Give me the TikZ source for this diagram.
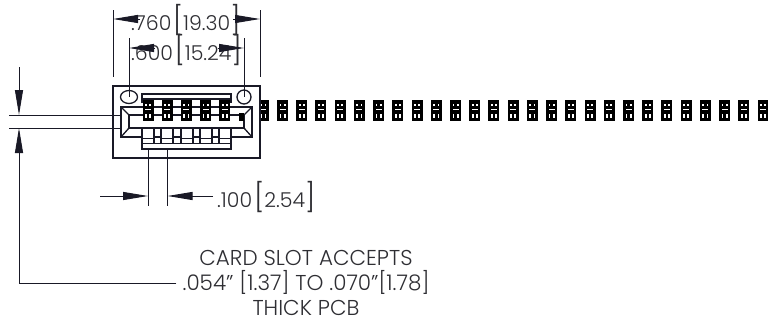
\documentclass[tikz,border=0pt]{standalone}
\usepackage{xcolor}
\usepackage{fontspec}
\setmainfont{Poppins Light}
\usepackage{tikz}
\usetikzlibrary{arrows.meta, positioning}
\definecolor{inkline}{rgb}{0.10,0.10,0.15}
\definecolor{inktext}{rgb}{0.18,0.18,0.20}
\newcommand{\brk}[1]{{\fontsize{28}{28}\selectfont[}#1{\fontsize{28}{28}\selectfont]}}

\begin{document}
\begin{tikzpicture}[x=1pt, y=-1pt,
    part/.style={draw=inkline, line width=1.3pt},
    dimline/.style={draw=inkline, line width=1pt},
    dimarrow/.style={draw=inkline, line width=1pt, -{Triangle[length=25pt,width=8pt]}},
    dimtext/.style={font=\fontsize{20.5}{20.5}\selectfont, text=inktext, inner sep=0pt},
    notetext/.style={font=\fontsize{21.5}{25}\selectfont, text=inktext, align=center, inner ysep=1pt, inner xsep=6pt},
    chippart/.pic={
        \fill[black] (-5.5,-10.5) rectangle (5.5,10.5);
        \fill[white] (-3,-7) rectangle (-1.2,-5);
        \fill[white] (1.2,-7) rectangle (3,-5);
        \fill[white] (-3,-1.2) rectangle (3,-0.2);
        \fill[white] (-3,3.5) rectangle (-1.2,7);
        \fill[white] (1.2,3.5) rectangle (3,7);
    }
]
\useasboundingbox (0,0) rectangle (768,322);

% pins running off to the right
\foreach \k in {6,...,32} {
    \pic at ({148+19.22*\k},110.5) {chippart};
}

% housing
\draw[part, fill=white] (113,86) rectangle (260,158);
\draw[part] (129,97) ellipse (8.5 and 6.5);
\draw[part] (244,97) circle (7);
\draw[part] (142,103) -- (142,94) -- (231,94) -- (231,103);
\draw[part] (142,99) -- (231,99);
\draw[part] (121,107) rectangle (252,137);
\draw[part] (129,115) rectangle (244,128);
\draw[part] (121,107) -- (129,115);
\draw[part] (252,107) -- (244,115);
\draw[part] (121,137) -- (129,128);
\draw[part] (252,137) -- (244,128);
\draw[part] (142,137) -- (142,149) -- (231,149) -- (231,137);
\draw[part] (142,143.5) -- (231,143.5);
\foreach \x in {142,161,181,200,219} {
    \draw[part, fill=white] (\x,128) rectangle (\x+12,143.5);
    \draw[part] (\x,138.5) -- (\x+12,138.5);
}
\foreach \k in {0,...,4} {
    \pic at ({148+19.22*\k},110.5) {chippart};
}
\fill[black] (239,113) rectangle (244,121);

% overall width
\node[dimtext, anchor=west] (widthtxt) at (131,20) {.760\kern1.5pt\brk{19.30}};
\coordinate (widthL) at (113,19);
\coordinate (widthR) at (260,19);
\draw[dimline] (113,10) -- (113,77);
\draw[dimline] (260,10) -- (260,77);
\draw[dimarrow] (140,19) -- (widthL);
\draw[dimarrow] (233,19) -- (widthR);

% hole spacing
\node[dimtext, anchor=west] (holetxt) at (131,50) {.600\kern1.5pt\brk{15.24}};
\coordinate (holeL) at (129,48);
\coordinate (holeR) at (244,48);
\draw[dimline] (129,38) -- (129,97);
\draw[dimline] (244,38) -- (244,97);
\draw[dimarrow] (155,48) -- (holeL);
\draw[dimarrow] (218,48) -- (holeR);

% pitch
\node[dimtext, anchor=west] (pitchtxt) at (217,197) {.100\kern2pt\brk{2.54}};
\coordinate (pitchL) at (148,196);
\coordinate (pitchR) at (167.5,196);
\coordinate (pitchtailL) at (100,196);
\coordinate (pitchtailR) at (213,196);
\draw[dimline] (148,149) -- (148,206);
\draw[dimline] (167.5,149) -- (167.5,206);
\draw[dimarrow] (pitchtailL) -- (pitchL);
\draw[dimarrow] (pitchtailR) -- (pitchR);

% card slot
\node[notetext] (slottxt) at (306,283) {CARD SLOT ACCEPTS\\.054" [1.37] TO .070"[1.78]\\THICK PCB};
\coordinate (slottop) at (19,115);
\coordinate (slotbot) at (19,128);
\coordinate (slottail) at (19,67);
\draw[dimline] (9,115) -- (121,115);
\draw[dimline] (9,128) -- (121,128);
\draw[dimarrow] (slottail) -- (slottop);
\draw[dimarrow] (slottxt.west) -| (slotbot);

\end{tikzpicture}
\end{document}
